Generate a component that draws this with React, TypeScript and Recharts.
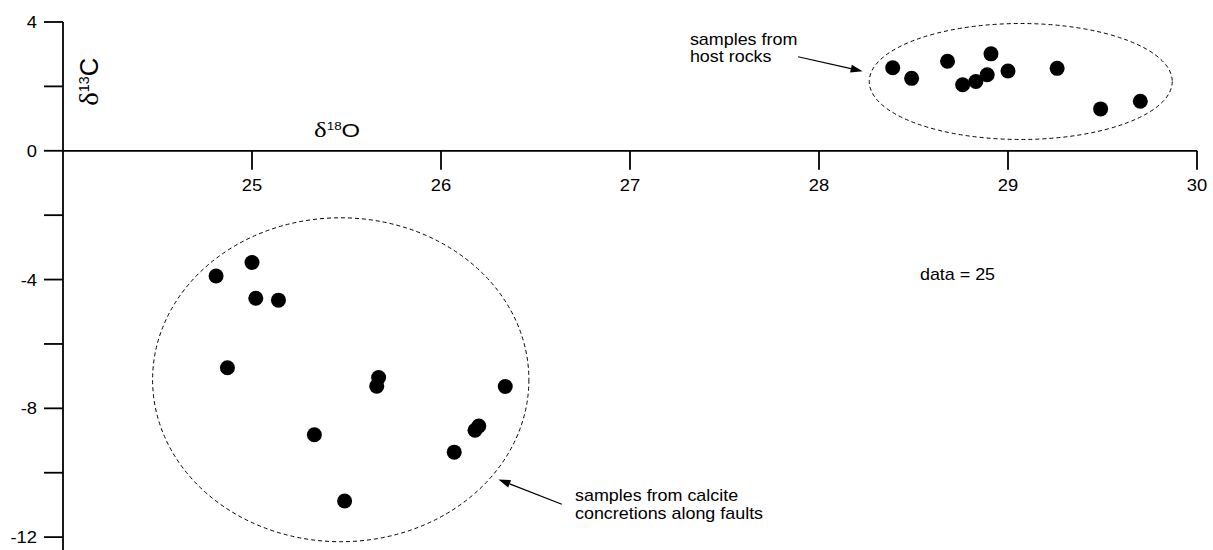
import { ScatterChart, Scatter, XAxis, YAxis, ReferenceLine, ReferenceDot, ReferenceArea } from "recharts";

// host rock samples (δ18O, δ13C)
const hostO = [28.39, 28.49, 28.68, 28.91, 28.76, 28.83, 28.89, 29.0, 29.26, 29.49, 29.7];
const hostC = [2.58, 2.25, 2.78, 3.01, 2.05, 2.15, 2.36, 2.48, 2.56, 1.3, 1.54];

// calcite concretions along faults
const faultO = [24.81, 25.0, 25.02, 25.14, 24.87, 25.67, 25.66, 25.33, 25.49, 26.34, 26.2, 26.18, 26.07];
const faultC = [-3.89, -3.47, -4.58, -4.64, -6.74, -7.04, -7.31, -8.82, -10.88, -7.32, -8.55, -8.68, -9.36];

const xTicks = [25, 26, 27, 28, 29, 30];
const yTicks = [4, 2, 0, -2, -4, -6, -8, -10, -12];
const yLabelled = [4, 0, -4, -8, -12];

const points = [
  ...hostO.map((o, i) => ({ o, c: hostC[i] })),
  ...faultO.map((o, i) => ({ o, c: faultC[i] })),
];

const FONT = "'Liberation Sans', Arial, sans-serif";
const SX = 1.12;
const TICK_SX = 1.08;

const dot = (p: any) => <circle cx={p.cx} cy={p.cy} r={7.5} fill="#000" />;

const xTick = (label: number) => (p: any) => (
  <g>
    <line x1={p.cx} y1={p.cy} x2={p.cx} y2={p.cy + 19} stroke="#000" strokeWidth={1.8} />
    <text
      transform={`translate(${p.cx} ${p.cy + 40}) scale(${TICK_SX} 1)`}
      textAnchor="middle"
      fontFamily={FONT}
      fontSize={17}
      fill="#000"
    >
      {label}
    </text>
  </g>
);

const yTick = (p: any) =>
  yLabelled.includes(p.payload.value) ? (
    <text
      transform={`translate(${p.x} ${p.y}) scale(${TICK_SX} 1)`}
      dy="0.36em"
      textAnchor="end"
      fontFamily={FONT}
      fontSize={17}
      fill="#000"
    >
      {p.payload.value}
    </text>
  ) : (
    <g />
  );

const note = (lines: string[]) => (p: any) => (
  <text
    transform={`translate(${p.cx} ${p.cy}) scale(${SX} 1)`}
    fontFamily={FONT}
    fontSize={16}
    fill="#000"
  >
    {lines.map((l, i) => (
      <tspan key={i} x={0} dy={i === 0 ? 0 : 17.5}>
        {l}
      </tspan>
    ))}
  </text>
);

const ellipse = (p: any) => (
  <ellipse
    cx={p.x + p.width / 2}
    cy={p.y + p.height / 2}
    rx={p.width / 2}
    ry={p.height / 2}
    fill="none"
    stroke="#000"
    strokeWidth={1}
    strokeDasharray="4 3"
  />
);

const arrow = (p: any) => {
  const a = Math.atan2(p.y2 - p.y1, p.x2 - p.x1);
  const L = 12;
  const W = 4;
  const bx = p.x2 - L * Math.cos(a);
  const by = p.y2 - L * Math.sin(a);
  const pts = [
    [p.x2, p.y2],
    [bx + W * Math.sin(a), by - W * Math.cos(a)],
    [bx - W * Math.sin(a), by + W * Math.cos(a)],
  ]
    .map((q) => q.join(","))
    .join(" ");
  return (
    <g>
      <line x1={p.x1} y1={p.y1} x2={bx} y2={by} stroke="#000" strokeWidth={1.2} />
      <polygon points={pts} fill="#000" />
    </g>
  );
};

const deltaLabel = (mass: string, el: string, rotate: boolean) => (p: any) => (
  <text
    transform={`translate(${p.cx} ${p.cy})${rotate ? " rotate(-90) scale(1.37 1.35)" : " scale(1.28 1)"}`}
    textAnchor={rotate ? "middle" : "start"}
    fill="#000"
  >
    <tspan fontFamily="'Liberation Serif', 'Times New Roman', serif" fontSize={21}>
      δ
    </tspan>
    <tspan fontFamily={FONT} fontSize={10.5} dy={-7}>
      {mass}
    </tspan>
    <tspan fontFamily={FONT} fontSize={18.6} dy={7}>
      {el}
    </tspan>
  </text>
);

export default function App() {
  return (
    <div style={{ position: "absolute", left: 0, top: 0, background: "#fff" }}>
      <ScatterChart width={1213} height={550} margin={{ top: 22, right: 16, bottom: 0, left: 0 }}>
        <XAxis type="number" dataKey="o" domain={[24, 30]} allowDataOverflow hide />
        <YAxis
          type="number"
          dataKey="c"
          domain={[-12.4, 4]}
          allowDataOverflow
          ticks={yTicks}
          interval={0}
          width={63}
          tickSize={19}
          tickMargin={7}
          axisLine={{ stroke: "#000", strokeWidth: 1.8 }}
          tickLine={{ stroke: "#000", strokeWidth: 1.8 }}
          tick={yTick}
        />
        <ReferenceLine y={0} stroke="#000" strokeWidth={1.8} />
        {xTicks.map((t) => (
          <ReferenceDot key={t} x={t} y={0} r={0} shape={xTick(t)} />
        ))}
        <ReferenceArea x1={28.266} x2={29.869} y1={0.351} y2={3.953} shape={ellipse} />
        <ReferenceArea x1={24.474} x2={26.465} y1={-12.143} y2={-2.081} shape={ellipse} />
        <ReferenceLine segment={[{ x: 27.889, y: 2.92 }, { x: 28.231, y: 2.47 }]} shape={arrow} />
        <ReferenceLine segment={[{ x: 26.639, y: -10.98 }, { x: 26.304, y: -10.21 }]} shape={arrow} />
        <ReferenceDot x={27.317} y={3.3} r={0} shape={note(["samples from", "host rocks"])} />
        <ReferenceDot x={26.709} y={-10.88} r={0} shape={note(["samples from calcite", "concretions along faults"])} />
        <ReferenceDot x={28.534} y={-4.0} r={0} shape={note(["data = 25"])} />
        <ReferenceDot x={24.185} y={2.14} r={0} shape={deltaLabel("13", "C", true)} />
        <ReferenceDot x={25.328} y={0.43} r={0} shape={deltaLabel("18", "O", false)} />
        <Scatter data={points} fill="#000" shape={dot} isAnimationActive={false} />
      </ScatterChart>
    </div>
  );
}
